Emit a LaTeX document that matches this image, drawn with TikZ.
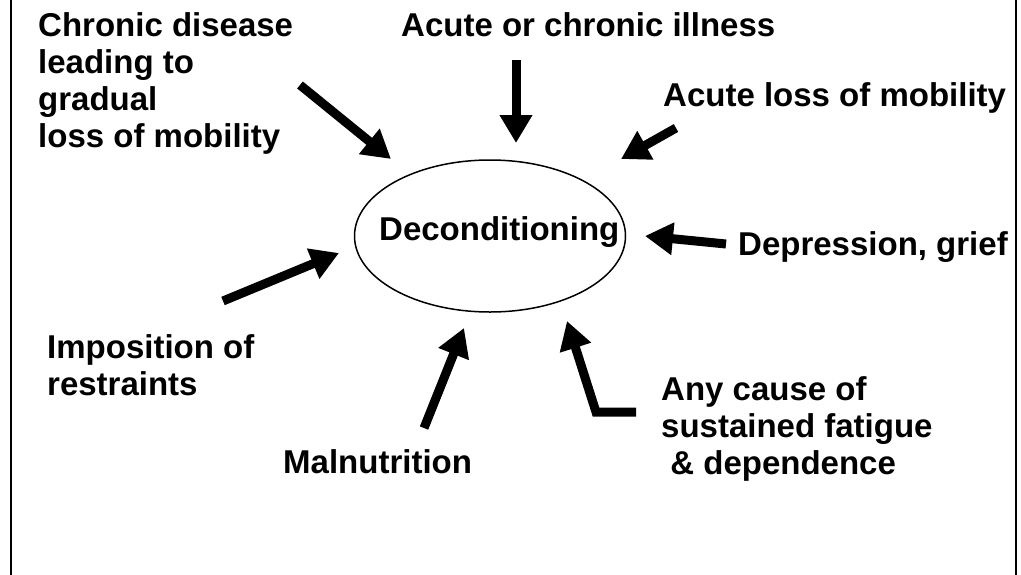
\documentclass[tikz,border=0pt]{standalone}
\usepackage{fontspec}
\setmainfont{Liberation Sans}
\usetikzlibrary{arrows.meta,shapes.geometric}

\begin{document}
\begin{tikzpicture}[x=1pt, y=-1pt,
		cause/.style={anchor=north west, inner sep=0pt, align=left, font=\bfseries\fontsize{33}{37}\selectfont},
		push/.style={line width=9pt, -{Triangle[width=31pt,length=28pt]}}]
		\useasboundingbox (0,0) rectangle (1021,574);
		% frame, cut off at top and bottom
		\draw[line width=2pt] (10.5,-10) rectangle (1015.5,590);
		\node[ellipse, draw, line width=1.5pt, minimum width=271pt, minimum height=152pt] (E) at (490,236) {};
		\node[cause] (D) at (379,216) {Deconditioning};
		\node[cause] (C1) at (38,12) {Chronic disease\\leading to\\gradual\\loss of mobility};
		\node[cause] (C2) at (401,12) {Acute or chronic illness};
		\node[cause] (C3) at (663,82) {Acute loss of mobility};
		\node[cause] (C4) at (738,231) {Depression, grief};
		\node[cause] (C5) at (47,334) {Imposition of\\restraints};
		\node[cause] (C6) at (283,449) {Malnutrition};
		\node[cause] (C7) at (661,376) {Any cause of\\sustained fatigue\\~\& dependence};
		% arrow ends
		\coordinate (t1) at (300,85);  \coordinate (h1) at (391,159);
		\coordinate (t2) at (516,60);  \coordinate (h2) at (516,143);
		\coordinate (t3) at (676,128); \coordinate (h3) at (621,159);
		\coordinate (t4) at (726,244); \coordinate (h4) at (645,236);
		\coordinate (t5) at (223,301); \coordinate (h5) at (339,253);
		\coordinate (t6) at (424,428); \coordinate (h6) at (464,328);
		\coordinate (t7) at (636,412); \coordinate (b7) at (596,412); \coordinate (h7) at (567,321);
		\draw[push] (t1) -- (h1);
		\draw[push] (t2) -- (h2);
		\draw[push] (t3) -- (h3);
		\draw[push] (t4) -- (h4);
		\draw[push] (t5) -- (h5);
		\draw[push] (t6) -- (h6);
		\draw[push] (t7) -- (b7) -- (h7);
	\end{tikzpicture}
\end{document}
